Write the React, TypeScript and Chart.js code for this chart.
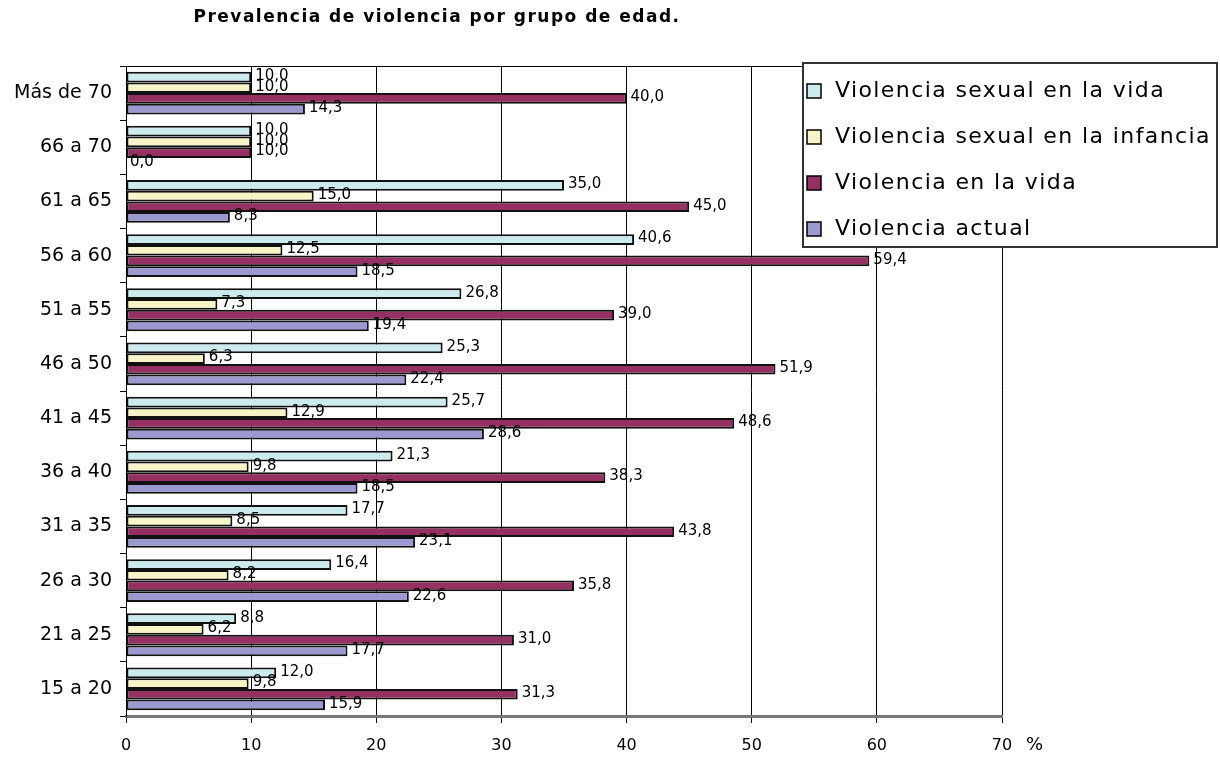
import React, { useEffect, useRef } from "react";
import { Chart, registerables } from "chart.js";

Chart.register(...registerables);

const TITLE = "Prevalencia de violencia por grupo de edad.";
const AXIS_UNIT = "%";

const categories = [
  "Más de 70",
  "66 a 70",
  "61 a 65",
  "56 a 60",
  "51 a 55",
  "46 a 50",
  "41 a 45",
  "36 a 40",
  "31 a 35",
  "26 a 30",
  "21 a 25",
  "15 a 20",
];

const seriesNames = [
  "Violencia sexual en la vida",
  "Violencia sexual en la infancia",
  "Violencia en la vida",
  "Violencia actual",
];

const sexualVida = [10.0, 10.0, 35.0, 40.6, 26.8, 25.3, 25.7, 21.3, 17.7, 16.4, 8.8, 12.0];
const sexualInfancia = [10.0, 10.0, 15.0, 12.5, 7.3, 6.3, 12.9, 9.8, 8.5, 8.2, 6.2, 9.8];
const violenciaVida = [40.0, 10.0, 45.0, 59.4, 39.0, 51.9, 48.6, 38.3, 43.8, 35.8, 31.0, 31.3];
const violenciaActual = [14.3, 0.0, 8.3, 18.5, 19.4, 22.4, 28.6, 18.5, 23.1, 22.6, 17.7, 15.9];

const xTicks = [0, 10, 20, 30, 40, 50, 60, 70];

const colors = ["#CCEBEF", "#F7F5C8", "#962F62", "#9B99CF"];

const fmt = (v: number) => v.toFixed(1).replace(".", ",");

const decorPlugin = {
  id: "decor",
  beforeDraw(chart: any) {
    const { ctx, width, height } = chart;
    ctx.save();
    ctx.fillStyle = "#ffffff";
    ctx.fillRect(0, 0, width, height);
    ctx.restore();
  },
  afterDatasetsDraw(chart: any) {
    const { ctx, chartArea } = chart;
    ctx.save();
    // plot frame top line
    ctx.strokeStyle = "#000";
    ctx.lineWidth = 1;
    ctx.beginPath();
    ctx.moveTo(chartArea.left, chartArea.top + 0.5);
    ctx.lineTo(chartArea.right, chartArea.top + 0.5);
    ctx.stroke();

    // data labels
    ctx.fillStyle = "#000";
    ctx.font = "15px 'DejaVu Sans'";
    ctx.textAlign = "left";
    ctx.textBaseline = "middle";
    chart.data.datasets.forEach((ds: any, di: number) => {
      const meta = chart.getDatasetMeta(di);
      meta.data.forEach((bar: any, i: number) => {
        ctx.fillText(fmt(ds.data[i]), bar.x + 4, bar.y - 1);
      });
    });
    ctx.restore();
  },
  afterDraw(chart: any) {
    const { ctx, chartArea } = chart;
    ctx.save();
    // title
    ctx.fillStyle = "#000";
    ctx.font = "bold 17px 'DejaVu Sans'";
    (ctx as any).letterSpacing = "1.5px";
    ctx.textAlign = "center";
    ctx.textBaseline = "middle";
    ctx.fillText(TITLE, 437, 18);
    (ctx as any).letterSpacing = "0px";

    // unit label
    ctx.font = "18px 'DejaVu Sans'";
    ctx.textAlign = "left";
    ctx.fillText(AXIS_UNIT, chartArea.right + 24, 745);

    // legend box
    const bx = 802, by = 62, bw = 416, bh = 186;
    ctx.fillStyle = "#ffffff";
    ctx.fillRect(bx, by, bw, bh);
    ctx.strokeStyle = "#333";
    ctx.lineWidth = 2;
    ctx.strokeRect(bx + 1, by + 1, bw - 2, bh - 2);
    ctx.font = "22px 'DejaVu Sans'";
    (ctx as any).letterSpacing = "1.4px";
    ctx.textBaseline = "middle";
    chart.data.datasets.forEach((ds: any, di: number) => {
      const cy = by + 29 + di * 46;
      ctx.fillStyle = ds.backgroundColor;
      ctx.fillRect(807, cy - 7, 14, 14);
      ctx.strokeStyle = "#000";
      ctx.lineWidth = 1.5;
      ctx.strokeRect(807, cy - 7, 14, 14);
      ctx.fillStyle = "#000";
      ctx.fillText(ds.label, 835, cy);
    });
    ctx.restore();
  },
};

export default function App() {
  const ref = useRef<HTMLCanvasElement | null>(null);

  useEffect(() => {
    document.body.style.margin = "0";
    if (!ref.current) return;
    const allSeries = [sexualVida, sexualInfancia, violenciaVida, violenciaActual];
    const chart = new Chart(ref.current, {
      type: "bar",
      data: {
        labels: categories,
        datasets: allSeries.map((d, i) => ({
          label: seriesNames[i],
          data: d,
          backgroundColor: colors[i],
          borderColor: "#111",
          borderWidth: 2,
          borderSkipped: false,
          categoryPercentage: 0.79,
          barPercentage: 1.0,
        })),
      },
      options: {
        indexAxis: "y",
        animation: false,
        responsive: false,
        devicePixelRatio: 1,
        layout: { padding: { top: 66, right: 218, left: 0, bottom: 0 } },
        plugins: {
          legend: { display: false },
          title: { display: false },
          tooltip: { enabled: false },
        },
        scales: {
          x: {
            type: "linear",
            position: "bottom",
            min: 0,
            max: 70,
            afterBuildTicks: (scale: any) => {
              scale.ticks = xTicks.map((v) => ({ value: v }));
            },
            afterFit: (scale: any) => {
              scale.height = 43;
            },
            ticks: {
              color: "#000",
              font: { family: "'DejaVu Sans'", size: 16 },
              padding: 13,
            },
            grid: {
              color: "#000",
              lineWidth: 1,
              tickLength: 7,
              drawOnChartArea: true,
            },
            border: { display: true, color: "#777", width: 3 },
          },
          y: {
            type: "category",
            afterFit: (scale: any) => {
              scale.width = 126;
            },
            ticks: {
              color: "#000",
              font: { family: "'DejaVu Sans'", size: 19 },
              padding: 8,
            },
            grid: {
              color: "#000",
              drawOnChartArea: false,
              drawTicks: true,
              tickLength: 6,
              offset: true,
            },
            border: { display: true, color: "#000", width: 1 },
          },
        },
      },
      plugins: [decorPlugin],
    } as any);
    return () => chart.destroy();
  }, []);

  return (
    <div style={{ width: 1220, height: 759 }}>
      <canvas ref={ref} width={1220} height={759} />
    </div>
  );
}
